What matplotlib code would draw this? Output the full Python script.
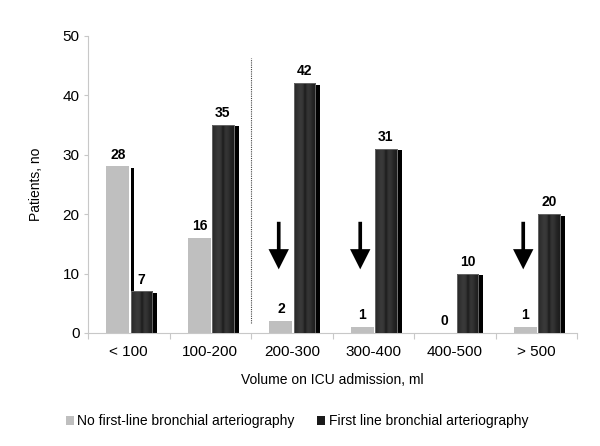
import numpy as np
import matplotlib
matplotlib.use("Agg")
import matplotlib.pyplot as plt
from matplotlib.patches import Patch, Rectangle

plt.rcParams['font.family'] = ['Liberation Sans', 'DejaVu Sans']

categories = ["< 100", "100-200", "200-300", "300-400", "400-500", "> 500"]
no_first_line = [28, 16, 2, 1, 0, 1]
first_line = [7, 35, 42, 31, 10, 20]
arrow_groups = [2, 3, 5]
series_names = ["No first-line bronchial arteriography", "First line bronchial arteriography"]

GREY = "#bfbfbf"
DARK = "#262626"
AXC = "#c8c8c8"

fig = plt.figure(figsize=(6, 4.46), dpi=100)
ax = fig.add_axes([0.1467, 0.2534, 0.815, 0.6666])

x = np.arange(len(categories))
gw = 0.283
dw = 0.261
g_left = -0.275
d_left = 0.025
sh_gap = 0.016
sh_w = 0.046
sh_drop = 0.25

# gradient for dark bars
grad = np.array([0.16, 0.18, 0.20, 0.22, 0.23, 0.22, 0.18, 0.11, 0.17, 0.21, 0.20, 0.18, 0.15, 0.13, 0.12])
grad_img = np.tile(grad, (2, 1))

for i, (g, d) in enumerate(zip(no_first_line, first_line)):
    if g > 0:
        ax.bar(x[i] + g_left + gw + sh_gap, g - sh_drop, width=sh_w, align='edge',
               color='black', zorder=1, linewidth=0)
        ax.bar(x[i] + g_left, g, width=gw, align='edge', color=GREY, zorder=2,
               linewidth=0)
    ax.bar(x[i] + d_left + dw + sh_gap, d - sh_drop, width=sh_w, align='edge',
           color='black', zorder=1, linewidth=0)
    bars = ax.bar(x[i] + d_left, d, width=dw, align='edge', color=DARK, zorder=3,
                  edgecolor='#6a6a6a', linewidth=0.6)
    r = bars[0]
    im = ax.imshow(grad_img, cmap='gray', vmin=0, vmax=1, aspect='auto',
                   extent=[r.get_x(), r.get_x() + r.get_width(), 0, d], zorder=3.5,
                   interpolation='bilinear')
    im.set_clip_path(r)
    ax.add_patch(Rectangle((r.get_x(), 0), r.get_width(), d, fill=False,
                           edgecolor='#707070', linewidth=0.6, zorder=3.6))
    ax.annotate(str(g), (x[i] + g_left + gw / 2, g), xytext=(0, 8.5),
                textcoords='offset points', ha='center', va='center',
                fontsize=10, fontweight='bold')
    ax.annotate(str(d), (x[i] + d_left + dw / 2, d), xytext=(0, 8.5),
                textcoords='offset points', ha='center', va='center',
                fontsize=10, fontweight='bold')

for gi in arrow_groups:
    ax.arrow(gi - 0.16, 18.7, 0, -8.0, width=0.045, head_width=0.25,
             head_length=3.4, length_includes_head=True, color='black',
             linewidth=0, zorder=4)

ax.vlines(1.5, 1.7, 46.3, colors='#444444', linestyles=(0, (1, 1)), linewidth=0.8)

ax.set_xlim(-0.5, len(categories) - 0.5)
ax.set_ylim(0, 50)
ax.set_yticks(np.arange(0, 51, 10))
ax.set_xticks(x)
ax.set_xticklabels(categories, fontsize=11)
ax.set_xticks(np.arange(-0.5, len(categories), 1.0), minor=True)
ax.tick_params(axis='x', which='major', length=0, pad=9)
ax.tick_params(axis='x', which='minor', length=4, color=AXC, width=0.8)
ax.tick_params(axis='y', length=3, color=AXC, width=0.8, labelsize=11, pad=3)
for s in ['top', 'right']:
    ax.spines[s].set_visible(False)
for s in ['left', 'bottom']:
    ax.spines[s].set_color(AXC)
    ax.spines[s].set_linewidth(0.8)

ax.set_ylabel("Patients, no", fontsize=10, labelpad=14)
ax.set_xlabel("Volume on ICU admission, ml", fontsize=10, labelpad=10)

handles = [Patch(facecolor=GREY, edgecolor='none'), Patch(facecolor='#1a1a1a', edgecolor='none')]
fig.legend(handles, series_names, loc='center', bbox_to_anchor=(0.495, 0.056), ncol=2,
           frameon=False, fontsize=10, handlelength=0.6, handleheight=0.6,
           handletextpad=0.25, columnspacing=1.6)

fig.savefig("out.png", dpi=100)
